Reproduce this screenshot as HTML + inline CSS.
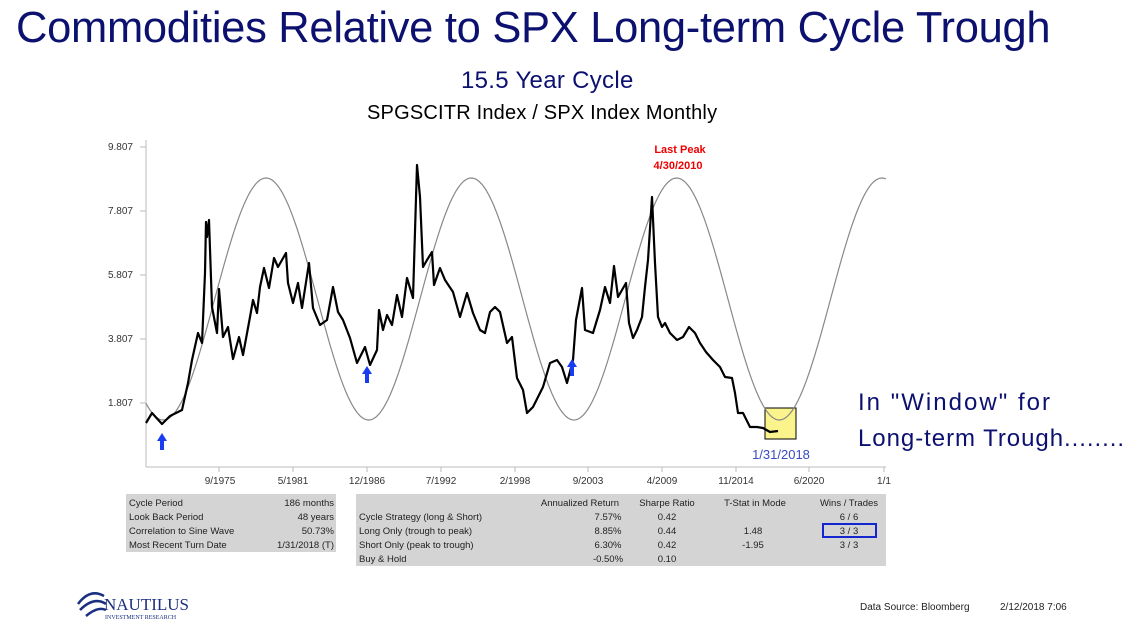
<!DOCTYPE html>
<html><head><meta charset="utf-8"><style>
body{margin:0;width:1134px;height:638px;background:#fff;font-family:"Liberation Sans",sans-serif;position:relative;overflow:hidden}
.a{position:absolute;white-space:nowrap}
</style></head><body>
<div class="a" style="left:16px;top:4px;font-size:43.5px;color:#0c1170;letter-spacing:-0.3px">Commodities Relative to SPX Long-term Cycle Trough</div>
<div class="a" style="left:461px;top:67px;font-size:24px;color:#0c1170;letter-spacing:0.3px">15.5 Year Cycle</div>
<div class="a" style="left:367px;top:102px;font-size:20px;color:#000;letter-spacing:0.2px">SPGSCITR Index / SPX Index Monthly</div>
<svg class="a" style="left:0;top:0" width="1134" height="638">
<g font-size="10" fill="#333" text-anchor="end">
<text x="133" y="150">9.807</text><text x="133" y="214">7.807</text><text x="133" y="278">5.807</text><text x="133" y="342">3.807</text><text x="133" y="406">1.807</text>
</g>
<g stroke="#bbb" stroke-width="1">
<line x1="146" y1="140" x2="146" y2="467"/><line x1="146" y1="467" x2="886" y2="467"/>
<line x1="140" y1="147" x2="146" y2="147"/><line x1="140" y1="211" x2="146" y2="211"/><line x1="140" y1="275" x2="146" y2="275"/><line x1="140" y1="339" x2="146" y2="339"/><line x1="140" y1="403" x2="146" y2="403"/>
<line x1="219" y1="467" x2="219" y2="472"/><line x1="293" y1="467" x2="293" y2="472"/><line x1="367" y1="467" x2="367" y2="472"/><line x1="441" y1="467" x2="441" y2="472"/><line x1="515" y1="467" x2="515" y2="472"/><line x1="588" y1="467" x2="588" y2="472"/><line x1="662" y1="467" x2="662" y2="472"/><line x1="736" y1="467" x2="736" y2="472"/><line x1="809" y1="467" x2="809" y2="472"/><line x1="884" y1="467" x2="884" y2="472"/>
</g>
<g font-size="10" fill="#333" text-anchor="middle">
<text x="220" y="484">9/1975</text><text x="293" y="484">5/1981</text><text x="367" y="484">12/1986</text><text x="441" y="484">7/1992</text><text x="515" y="484">2/1998</text><text x="588" y="484">9/2003</text><text x="662" y="484">4/2009</text><text x="736" y="484">11/2014</text><text x="809" y="484">6/2020</text><text x="884" y="484">1/1</text>
</g>
<rect x="765" y="408" width="31" height="31" fill="#fbf38c" stroke="#000" stroke-width="1"/>
<path id="sine" fill="none" stroke="#888" stroke-width="1.2" d=""/>
<polyline fill="none" stroke="#000" stroke-width="2.2" stroke-linejoin="round" points="146,423 152,413 162,424 170,416 182,410 188,383 192,360 198,333 202,343 205,273 206,222 207,237 209,220 212,307 217,333 219,289 223,337 228,327 233,359 239,337 243,355 250,317 253,300 257,313 260,287 264,268 269,288 274,258 278,267 286,253 288,283 293,303 298,283 302,308 309,263 313,308 320,325 327,320 333,287 338,312 343,320 350,338 357,363 365,347 370,365 377,350 379,310 383,330 387,315 392,325 397,295 402,317 407,278 413,298 417,165 420,197 423,267 427,260 432,252 434,285 440,268 445,280 453,292 460,317 467,293 473,313 480,330 485,333 490,312 495,307 500,312 507,343 512,337 517,378 523,390 527,413 533,407 538,397 543,387 550,363 557,360 562,367 567,383 573,360 576,320 582,288 585,330 593,333 600,310 605,287 610,303 614,266 618,297 626,283 629,323 633,338 637,330 642,317 645,287 648,260 652,197 655,263 658,317 662,327 665,323 670,333 677,340 683,337 689,327 695,333 700,343 706,352 713,360 720,367 725,377 732,378 735,393 738,413 743,413 750,427 757,427 763,428 770,432 778,431"/>
<g fill="#1a3cf0">
<polygon points="162,433 157,441 160,441 160,450 164,450 164,441 167,441"/>
<polygon points="367,366 362,374 365,374 365,383 369,383 369,374 372,374"/>
<polygon points="572,359 567,367 570,367 570,376 574,376 574,367 577,367"/>
</g>
<text x="680" y="153" font-size="11" font-weight="bold" fill="#e00" text-anchor="middle">Last Peak</text>
<text x="678" y="169" font-size="11" font-weight="bold" fill="#e00" text-anchor="middle">4/30/2010</text>
<text x="781" y="459" font-size="13" fill="#3a4ac0" text-anchor="middle">1/31/2018</text>
<text x="858" y="410" font-size="24" fill="#0c1170" textLength="192">In "Window" for</text>
<text x="858" y="446" font-size="24" fill="#0c1170" textLength="266">Long-term Trough........</text>
<rect x="126" y="494" width="210" height="58" fill="#d4d4d4"/>
<rect x="356" y="494" width="530" height="72" fill="#d4d4d4"/>
<g font-size="9.5" fill="#222">
<text x="129" y="506">Cycle Period</text><text x="129" y="520">Look Back Period</text><text x="129" y="534">Correlation to Sine Wave</text><text x="129" y="548">Most Recent Turn Date</text>
<g text-anchor="end"><text x="334" y="506">186 months</text><text x="334" y="520">48 years</text><text x="334" y="534">50.73%</text><text x="334" y="548">1/31/2018 (T)</text></g>
<text x="359" y="520">Cycle Strategy (long &amp; Short)</text><text x="359" y="534">Long Only (trough to peak)</text><text x="359" y="548">Short Only (peak to trough)</text><text x="359" y="562">Buy &amp; Hold</text>
<g text-anchor="middle">
<text x="580" y="506">Annualized Return</text><text x="667" y="506">Sharpe Ratio</text><text x="755" y="506">T-Stat in Mode</text><text x="849" y="506">Wins / Trades</text>
<text x="608" y="520">7.57%</text><text x="608" y="534">8.85%</text><text x="608" y="548">6.30%</text><text x="608" y="562">-0.50%</text>
<text x="667" y="520">0.42</text><text x="667" y="534">0.44</text><text x="667" y="548">0.42</text><text x="667" y="562">0.10</text>
<text x="753" y="534">1.48</text><text x="753" y="548">-1.95</text>
<text x="849" y="520">6 / 6</text><text x="849" y="534">3 / 3</text><text x="849" y="548">3 / 3</text>
</g></g>
<rect x="823" y="524" width="53" height="13" fill="none" stroke="#1426d0" stroke-width="2"/>
<g fill="none" stroke="#1a2f80" stroke-width="2.5">
<path d="M78 604 Q90 588 104 596"/><path d="M80 610 Q94 596 106 604"/><path d="M86 616 Q98 606 106 610"/>
</g>
<text x="104" y="610" font-size="17" font-family="Liberation Serif,serif" fill="#1a2f80">NAUTILUS</text>
<text x="105" y="619" font-size="6" font-family="Liberation Serif,serif" fill="#1a2f80">INVESTMENT RESEARCH</text>
<text x="860" y="610" font-size="10" fill="#222">Data Source: Bloomberg</text>
<text x="1000" y="610" font-size="10" fill="#222">2/12/2018 7:06</text>
</svg>
<script>
var d="";for(var x=146;x<=886;x+=2){var y=299-121*Math.cos(2*Math.PI*(x-266)/205.3);d+=(x==146?"M":"L")+x+" "+y.toFixed(1)+" ";}
document.getElementById("sine").setAttribute("d",d);
</script>
</body></html>
